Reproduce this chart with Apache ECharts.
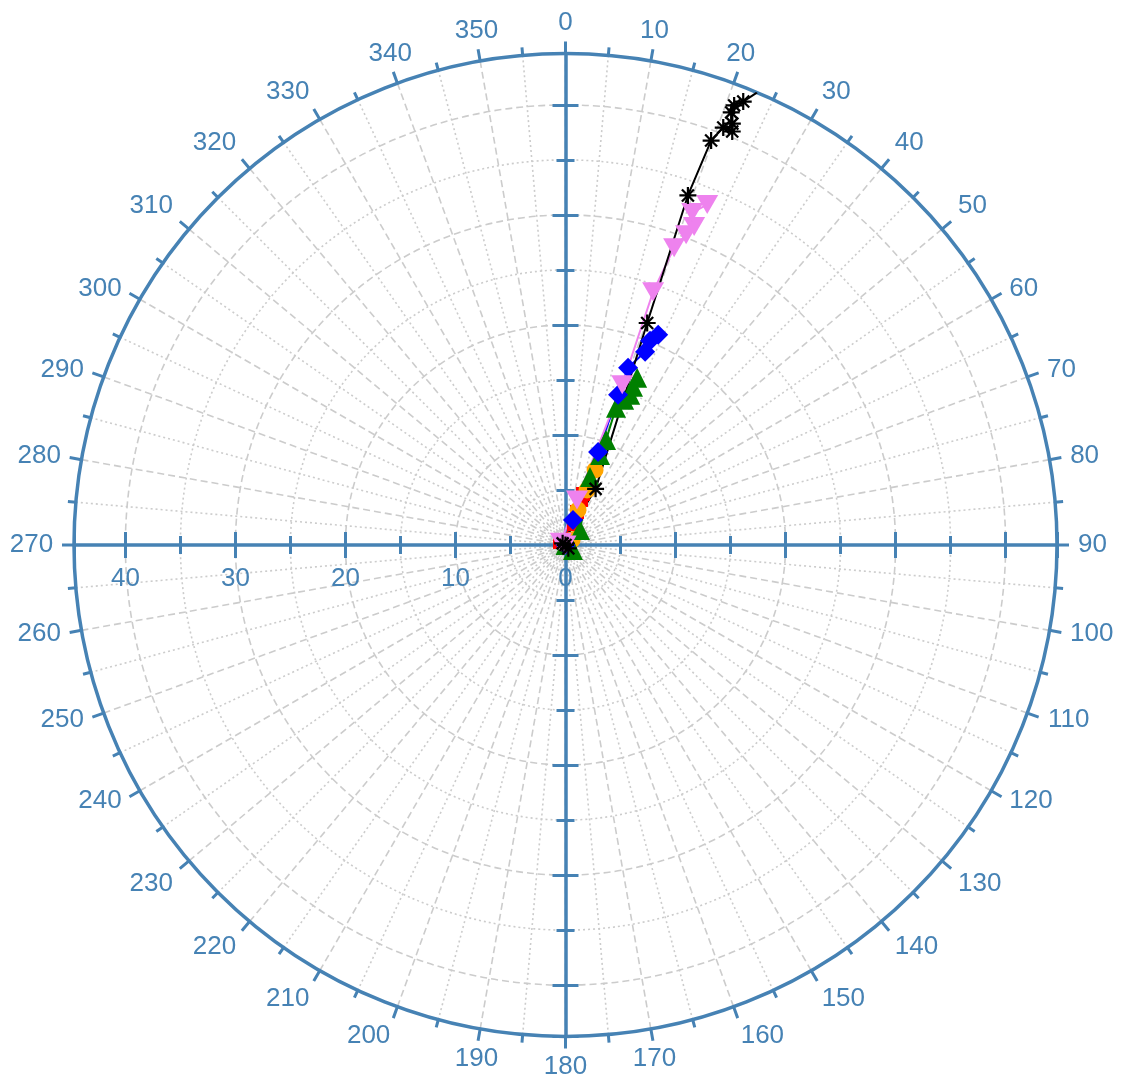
<!DOCTYPE html>
<html>
<head>
<meta charset="utf-8">
<script src="https://cdn.jsdelivr.net/npm/echarts@6/dist/echarts.min.js"></script>
<style>
  html, body { margin: 0; padding: 0; background: #ffffff; }
  #chart { width: 1122px; height: 1084px; }
</style>
</head>
<body>
<div id="chart"></div>
<script>
// Each point is [radius, angle in degrees, clockwise from north].
const redPoints    = [[0, 0], [0.57, 299], [2.06, 22], [3.18, 19.2], [4.33, 19.0], [4.9, 18.9]];
const orangePoints = [[0, 0], [0.75, 52], [3.38, 19.7], [5.37, 21.4], [7.33, 21.5]];
const greenPoints  = [[0, 0], [0.82, 124], [1.9, 44], [6.58, 19.8], [8.77, 21.0], [10.24, 21.1],
                      [13.29, 20.2], [14.23, 22.0], [14.86, 23.3], [15.63, 23.1], [16.53, 23.2]];
const bluePoints   = [[0, 0], [2.37, 16.7], [8.96, 19.3], [14.46, 19.3], [17.08, 19.45],
                      [18.99, 22.4], [20.09, 22.5], [20.88, 23.8]];
const violetPoints = [[0, 0], [0.5, 300], [4.23, 14.3], [15.44, 19.5], [24.36, 19.08], [28.77, 20.07],
                      [30.26, 21.24], [31.21, 22.0], [32.33, 20.86], [33.51, 22.6]];
const blackPoints  = [[0, 0], [0.4, 140], [0.3, 300], [5.79, 28.2], [21.5, 20.2], [33.66, 19.3],
                      [39.07, 19.8], [40.56, 20.7], [40.52, 21.96], [41.19, 21.6], [42.1, 20.96],
                      [42.79, 20.99], [43.42, 21.84], [44.67, 22.96]];

// Angle tick labels (degrees) and tick spacing.
const angleTickLabels = [0, 10, 20, 30, 40, 50, 60, 70, 80, 90, 100, 110, 120, 130, 140, 150, 160, 170,
                         180, 190, 200, 210, 220, 230, 240, 250, 260, 270, 280, 290, 300, 310, 320, 330, 340, 350];
const angleStep = 10;
const radiusStep = 10;
// Directions (math degrees) of the four radial axis arms.
const armDirections = [90, 180, 270, 0];

const allPoints = [].concat(redPoints, orangePoints, greenPoints, bluePoints, violetPoints, blackPoints);
const radiusMax = Math.max.apply(null, allPoints.map(p => p[0]));

const AXIS_BLUE = '#4682b4';
const GRID_GRAY = '#cccccc';
const FONT = 'Liberation Sans, Arial, sans-serif';
const FONT_SIZE = 26;
const CENTER = [565.5, 545];
const RADIUS = 491.5;
const LABEL_GAP = 21;      // px from the rim to the label anchor
const DIGIT_W = 14.4;      // approximate glyph advance of one digit
const HALF_H = 9.5;        // approximate half height of a digit

const asterisk = 'path://M0.87,0L1.13,0L1.13,2L0.87,2Z M0,0.87L2,0.87L2,1.13L0,1.13Z ' +
  'M0.39,0.2L1.8,1.61L1.61,1.8L0.2,0.39Z M1.61,0.2L1.8,0.39L0.39,1.8L0.2,1.61Z';
const downTriangle = 'path://M0,0L2,0L1,1.75Z';

const polar = [];
const angleAxis = [];
const radiusAxis = [];

// Polar 0: grid lines and data.
polar.push({ center: CENTER, radius: RADIUS });
angleAxis.push({
  polarIndex: 0, type: 'value', min: 0, max: 360, interval: angleStep,
  startAngle: 90, clockwise: true, z: 0,
  axisLine: { show: false }, axisTick: { show: false }, axisLabel: { show: false },
  splitLine: { show: true, lineStyle: { color: GRID_GRAY, width: 1.6, type: [7, 4] } },
  minorTick: { show: false, splitNumber: 2 },
  minorSplitLine: { show: true, lineStyle: { color: GRID_GRAY, width: 1.6, type: [2, 3] } }
});
radiusAxis.push({
  polarIndex: 0, type: 'value', min: 0, max: radiusMax, interval: radiusStep, z: 0,
  axisLine: { show: false }, axisTick: { show: false }, axisLabel: { show: false },
  splitLine: { show: true, lineStyle: { color: GRID_GRAY, width: 1.6, type: [7, 4] } },
  minorTick: { show: false, splitNumber: 2 },
  minorSplitLine: { show: true, lineStyle: { color: GRID_GRAY, width: 1.6, type: [2, 3] } }
});

// Polar 1: outer rim with angle ticks.
polar.push({ center: CENTER, radius: RADIUS });
angleAxis.push({
  polarIndex: 1, type: 'value', min: 0, max: 360, interval: angleStep,
  startAngle: 90, clockwise: true, z: 3,
  axisLine: { show: true, lineStyle: { color: AXIS_BLUE, width: 3.5 } },
  axisTick: { show: true, inside: false, length: 12, lineStyle: { color: AXIS_BLUE, width: 3 } },
  minorTick: { show: true, splitNumber: 2, length: 8, lineStyle: { color: AXIS_BLUE, width: 3 } },
  axisLabel: { show: false },
  splitLine: { show: false }, minorSplitLine: { show: false }
});
radiusAxis.push({
  polarIndex: 1, type: 'value', min: 0, max: radiusMax, interval: radiusStep, show: false
});

// Radial axis arms: two polars per arm, ticks on opposite sides so they cross the line.
armDirections.forEach(dir => {
  [1, -1].forEach(side => {
    const idx = polar.length;
    polar.push({ center: CENTER, radius: RADIUS });
    angleAxis.push({
      polarIndex: idx, type: 'value', min: 0, max: 360, startAngle: dir, clockwise: true, show: false
    });
    const withLabels = dir === 180 && side === 1;
    radiusAxis.push({
      polarIndex: idx, type: 'value', min: 0, max: radiusMax, interval: radiusStep, z: 3,
      axisLine: { show: side === 1, lineStyle: { color: AXIS_BLUE, width: 3.5 } },
      axisTick: { show: true, inside: false, length: 13 * side, lineStyle: { color: AXIS_BLUE, width: 3 } },
      minorTick: { show: true, splitNumber: 2, length: 9 * side, lineStyle: { color: AXIS_BLUE, width: 3 } },
      axisLabel: {
        show: withLabels, showMaxLabel: false, margin: 21,
        color: AXIS_BLUE, fontSize: FONT_SIZE, fontFamily: FONT
      },
      splitLine: { show: false }, minorSplitLine: { show: false }
    });
  });
});

function trace(points, color, symbol, size) {
  return {
    type: 'line', coordinateSystem: 'polar', polarIndex: 0,
    data: points, symbol: symbol, symbolSize: size, showSymbol: true,
    lineStyle: { color: color, width: 2 },
    itemStyle: { color: color, borderWidth: 0 },
    z: 6, animation: false, silent: true
  };
}

const chart = echarts.init(document.getElementById('chart'), null, { renderer: 'canvas' });
chart.setOption({
  animation: false,
  backgroundColor: '#ffffff',
  polar: polar,
  angleAxis: angleAxis,
  radiusAxis: radiusAxis,
  series: [
    trace(redPoints, '#ff0000', 'rect', 14),
    trace(orangePoints, '#ffa500', 'circle', 17),
    trace(greenPoints, '#008000', 'triangle', 20),
    trace(bluePoints, '#0000ff', 'diamond', 20),
    trace(violetPoints, '#ee82ee', downTriangle, [22, 19]),
    trace(blackPoints, '#000000', asterisk, 17)
  ]
});

// Angle labels: anchored where each tick meets the rim, then nudged outwards so the
// text sits beside (left/right) or above/below the anchor depending on the ray.
const angleLabels = angleTickLabels.map(a => {
  const text = String(a);
  const anchor = chart.convertToPixel({ polarIndex: 0 }, [radiusMax, a]);
  const th = a * Math.PI / 180;
  const s = Math.sin(th), c = Math.cos(th);
  const halfW = text.length * DIGIT_W / 2;
  const centreLimit = c > 0 ? 0.4 : 0.2;
  const shiftX = Math.abs(s) < centreLimit ? 0 : Math.sign(s) * halfW;
  const shiftY = Math.abs(c) < 0.55 ? 0 : -Math.sign(c) * HALF_H;
  return {
    type: 'text', silent: true, z: 10,
    x: anchor[0] + LABEL_GAP * s + shiftX,
    y: anchor[1] - LABEL_GAP * c + shiftY,
    style: {
      text: text, fill: AXIS_BLUE, align: 'center', verticalAlign: 'middle',
      font: FONT_SIZE + 'px ' + FONT
    }
  };
});
chart.setOption({ graphic: angleLabels });
</script>
</body>
</html>
